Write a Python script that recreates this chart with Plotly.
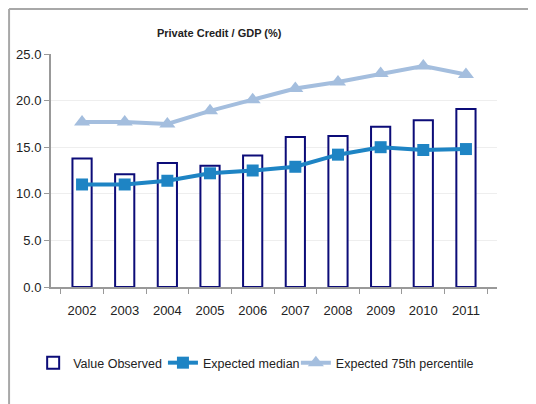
import plotly.graph_objects as go

years = ["2002", "2003", "2004", "2005", "2006", "2007", "2008", "2009", "2010", "2011"]
value_observed = [13.8, 12.1, 13.3, 13.0, 14.1, 16.1, 16.2, 17.2, 17.9, 19.1]
expected_median = [11.0, 11.0, 11.4, 12.2, 12.5, 12.9, 14.2, 15.0, 14.7, 14.8]
expected_p75 = [17.7, 17.7, 17.5, 18.9, 20.1, 21.3, 22.0, 22.9, 23.7, 22.8]

font_name = "Liberation Sans, Arial, sans-serif"

traces = [
    go.Bar(
        x=years, y=value_observed, name="Value Observed",
        width=0.45, legend="legend",
        marker=dict(color="white", line=dict(color="#0c0c78", width=2)),
    ),
    go.Scatter(
        x=years, y=expected_median, name="Expected median",
        mode="lines+markers", legend="legend2",
        line=dict(color="#1e84c4", width=4),
        marker=dict(symbol="square", size=12, color="#1e84c4"),
    ),
    go.Scatter(
        x=years, y=expected_p75, name="Expected 75th percentile",
        mode="lines+markers", legend="legend3",
        line=dict(color="#a4bede", width=4),
        marker=dict(symbol="triangle-up", size=14, color="#a4bede"),
    ),
]

# the page body adds an 8px margin, so the figure is sized to fill the rest
leg = dict(orientation="h", y=-0.262, xanchor="left", yanchor="top",
           font=dict(size=12.5), itemwidth=30, bgcolor="rgba(0,0,0,0)")

layout = go.Layout(
    width=528, height=396,
    margin=dict(l=43, r=39, t=46, b=117, autoexpand=False),
    paper_bgcolor="white", plot_bgcolor="white",
    font=dict(family=font_name, size=13, color="#222222"),
    title=dict(text="<b>Private Credit / GDP (%)</b>", x=0.40, xanchor="center",
               y=0.937, yanchor="middle", font=dict(size=11, color="#222222")),
    xaxis=dict(
        type="category", showgrid=False, tickson="boundaries",
        ticks="outside", ticklen=5, tickcolor="#999999",
        showline=True, linecolor="#999999", linewidth=2,
        tickfont=dict(size=13), ticklabelstandoff=10,
    ),
    yaxis=dict(
        range=[0, 25], dtick=5, tickformat=".1f",
        showgrid=True, gridcolor="#eeeeee", gridwidth=1,
        ticks="outside", ticklen=5, tickcolor="#999999",
        showline=True, linecolor="#999999", linewidth=2,
        zeroline=False, tickfont=dict(size=13),
    ),
    showlegend=True,
    legend=dict(leg, x=-0.040),
    legend2=dict(leg, x=0.251),
    legend3=dict(leg, x=0.549),
    bargap=0.5,
    shapes=[
        dict(type="line", xref="paper", yref="paper", x0=-0.094, x1=1.2,
             y0=1.193, y1=1.193, line=dict(color="#a8a8a8", width=2)),
        dict(type="line", xref="paper", yref="paper", x0=-0.094, x1=-0.094,
             y0=1.193, y1=-0.55, line=dict(color="#a8a8a8", width=2)),
    ],
)

fig = go.Figure(data=traces, layout=layout)
fig.write_html("out.html")
